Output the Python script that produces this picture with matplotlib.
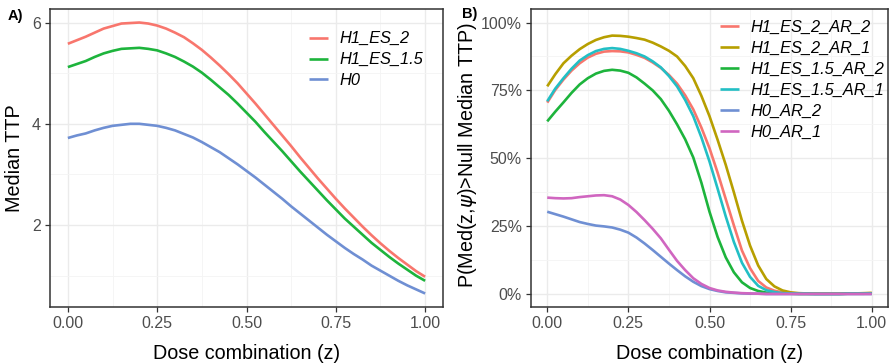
import matplotlib
matplotlib.use("Agg")
import matplotlib.pyplot as plt
from matplotlib.ticker import FixedLocator, PercentFormatter

plt.rcParams["font.family"] = ["Liberation Sans", "DejaVu Sans"]

# dose grid shared by all curves (step 0.025)
z = [i / 40 for i in range(41)]

# panel A: median TTP
med_h1_es_2 = [5.58, 5.65, 5.72, 5.80, 5.88, 5.93, 5.98, 5.99, 6.00, 5.98,
               5.94, 5.88, 5.80, 5.71, 5.59, 5.46, 5.31, 5.15, 4.98, 4.80,
               4.60, 4.40, 4.19, 3.98, 3.77, 3.56, 3.34, 3.13, 2.92, 2.72,
               2.52, 2.33, 2.15, 1.97, 1.80, 1.64, 1.49, 1.35, 1.22, 1.09, 0.98]
med_h1_es_15 = [5.12, 5.18, 5.24, 5.32, 5.39, 5.44, 5.48, 5.49, 5.50, 5.48,
                5.45, 5.39, 5.32, 5.23, 5.13, 5.01, 4.87, 4.72, 4.57, 4.40,
                4.22, 4.04, 3.84, 3.65, 3.46, 3.26, 3.06, 2.87, 2.68, 2.49,
                2.31, 2.13, 1.97, 1.81, 1.65, 1.51, 1.37, 1.24, 1.12, 1.00, 0.90]
med_h0 = [3.72, 3.77, 3.81, 3.87, 3.92, 3.96, 3.98, 4.00, 4.00, 3.98,
          3.96, 3.92, 3.87, 3.80, 3.73, 3.64, 3.54, 3.44, 3.32, 3.20,
          3.07, 2.94, 2.80, 2.66, 2.52, 2.37, 2.23, 2.09, 1.95, 1.81,
          1.68, 1.55, 1.43, 1.32, 1.20, 1.10, 1.00, 0.90, 0.81, 0.73, 0.65]

# panel B: P(Med(z, psi) > null median TTP)
p_h1_es_2_ar_2 = [0.705, 0.752, 0.790, 0.823, 0.850, 0.871, 0.885, 0.893, 0.895, 0.894,
                  0.890, 0.881, 0.870, 0.853, 0.833, 0.807, 0.775, 0.732, 0.680, 0.613,
                  0.537, 0.447, 0.350, 0.253, 0.160, 0.095, 0.048, 0.024, 0.012, 0.006,
                  0.003, 0.002, 0.001, 0.001, 0.001, 0.001, 0.001, 0.001, 0.002, 0.002, 0.003]
p_h1_es_2_ar_1 = [0.765, 0.810, 0.850, 0.878, 0.902, 0.921, 0.936, 0.946, 0.952, 0.951,
                  0.948, 0.943, 0.937, 0.926, 0.912, 0.896, 0.875, 0.840, 0.795, 0.730,
                  0.655, 0.568, 0.476, 0.375, 0.270, 0.178, 0.105, 0.055, 0.028, 0.013,
                  0.006, 0.003, 0.002, 0.001, 0.001, 0.001, 0.001, 0.002, 0.002, 0.003, 0.004]
p_h1_es_15_ar_2 = [0.636, 0.672, 0.706, 0.741, 0.772, 0.795, 0.812, 0.822, 0.826, 0.823,
                   0.815, 0.798, 0.775, 0.750, 0.718, 0.675, 0.625, 0.570, 0.503, 0.410,
                   0.303, 0.210, 0.135, 0.080, 0.043, 0.022, 0.011, 0.005, 0.003, 0.002,
                   0.001, 0.000, 0.000, 0.000, 0.000, 0.000, 0.000, 0.001, 0.001, 0.001, 0.002]
p_h1_es_15_ar_1 = [0.710, 0.757, 0.795, 0.830, 0.860, 0.880, 0.895, 0.903, 0.906, 0.903,
                   0.896, 0.887, 0.875, 0.857, 0.835, 0.803, 0.765, 0.715, 0.655, 0.577,
                   0.488, 0.388, 0.286, 0.192, 0.115, 0.063, 0.030, 0.014, 0.007, 0.003,
                   0.002, 0.001, 0.001, 0.000, 0.000, 0.000, 0.000, 0.001, 0.001, 0.001, 0.002]
p_h0_ar_2 = [0.303, 0.294, 0.285, 0.275, 0.265, 0.258, 0.252, 0.249, 0.245, 0.237,
             0.226, 0.208, 0.186, 0.162, 0.137, 0.112, 0.088, 0.065, 0.045, 0.029,
             0.018, 0.011, 0.006, 0.004, 0.002, 0.001, 0.001, 0.000, 0.000, 0.000,
             0.000, 0.000, 0.000, 0.000, 0.000, 0.000, 0.000, 0.000, 0.000, 0.000, 0.000]
p_h0_ar_1 = [0.355, 0.353, 0.352, 0.353, 0.357, 0.360, 0.363, 0.364, 0.360, 0.348,
             0.328, 0.302, 0.272, 0.240, 0.205, 0.163, 0.122, 0.088, 0.058, 0.037,
             0.022, 0.013, 0.008, 0.005, 0.003, 0.002, 0.001, 0.000, 0.000, 0.000,
             0.000, 0.000, 0.000, 0.000, 0.000, 0.000, 0.000, 0.000, 0.000, 0.000, 0.000]

labels_a = ["H1_ES_2", "H1_ES_1.5", "H0"]
labels_b = ["H1_ES_2_AR_2", "H1_ES_2_AR_1", "H1_ES_1.5_AR_2",
            "H1_ES_1.5_AR_1", "H0_AR_2", "H0_AR_1"]

RED, GOLD, GREEN, CYAN, BLUE, PINK = "#F8766D", "#B79F00", "#1DB43C", "#22BFC5", "#6F8FD3", "#D066C0"


def style_axes(ax):
    ax.set_facecolor("white")
    for s in ax.spines.values():
        s.set_color("#333333")
        s.set_linewidth(1.1)
    ax.grid(True, which="major", color="#EBEBEB", linewidth=1.0)
    ax.grid(True, which="minor", color="#F4F4F4", linewidth=0.6)
    ax.set_axisbelow(True)
    ax.tick_params(which="major", direction="out", length=3.5, width=0.9,
                   color="#333333", labelcolor="#4D4D4D", labelsize=11.5, pad=3)
    ax.tick_params(which="minor", length=0)
    ax.set_xlim(-0.05, 1.05)
    ax.xaxis.set_major_locator(FixedLocator([0, 0.25, 0.5, 0.75, 1.0]))
    ax.xaxis.set_minor_locator(FixedLocator([0.125, 0.375, 0.625, 0.875]))
    ax.set_xticklabels(["0.00", "0.25", "0.50", "0.75", "1.00"])
    ax.set_xlabel("Dose combination (z)", fontsize=14.2, labelpad=9)


fig = plt.figure(figsize=(8.9, 3.64), dpi=100)
ax_a = fig.add_axes([50 / 890, 57 / 364, 393 / 890, 298 / 364])
ax_b = fig.add_axes([531 / 890, 57 / 364, 357 / 890, 298 / 364])

lw = 1.9
legend_kw = dict(loc="upper left", frameon=False, prop={"style": "italic", "size": 11.8},
                 handlelength=1.15, handletextpad=0.7, labelspacing=0.36,
                 borderpad=0, borderaxespad=0)

for ys, lab, col in zip([med_h1_es_2, med_h1_es_15, med_h0], labels_a, [RED, GREEN, BLUE]):
    ax_a.plot(z, ys, color=col, lw=lw, label=lab, solid_capstyle="butt")
style_axes(ax_a)
ax_a.set_ylim(0.383, 6.267)
ax_a.yaxis.set_major_locator(FixedLocator([2, 4, 6]))
ax_a.yaxis.set_minor_locator(FixedLocator([1, 3, 5]))
ax_a.set_ylabel("Median TTP", fontsize=14.2, labelpad=6)
ax_a.legend(bbox_to_anchor=(0.66, 0.925), **legend_kw)

series_b = [p_h1_es_2_ar_2, p_h1_es_2_ar_1, p_h1_es_15_ar_2,
            p_h1_es_15_ar_1, p_h0_ar_2, p_h0_ar_1]
for ys, lab, col in zip(series_b, labels_b, [RED, GOLD, GREEN, CYAN, BLUE, PINK]):
    ax_b.plot(z, ys, color=col, lw=lw, label=lab, solid_capstyle="butt")
style_axes(ax_b)
ax_b.set_ylim(-0.048, 1.05)
ax_b.yaxis.set_major_locator(FixedLocator([0, 0.25, 0.5, 0.75, 1.0]))
ax_b.yaxis.set_minor_locator(FixedLocator([0.125, 0.375, 0.625, 0.875]))
ax_b.yaxis.set_major_formatter(PercentFormatter(1.0, decimals=0))
ax_b.set_ylabel(r"P(Med(z,$\psi$)>Null Median TTP)", fontsize=14.2)
ax_b.yaxis.set_label_coords(-0.147, 0.51)
ax_b.legend(bbox_to_anchor=(0.53, 0.963), **legend_kw)

fig.text(8 / 890, 1 - 16 / 364, "A)", fontsize=10.5, fontweight="bold", va="center")
fig.text(462 / 890, 1 - 14 / 364, "B)", fontsize=10.5, fontweight="bold", va="center")

fig.savefig("out.png", dpi=100)
